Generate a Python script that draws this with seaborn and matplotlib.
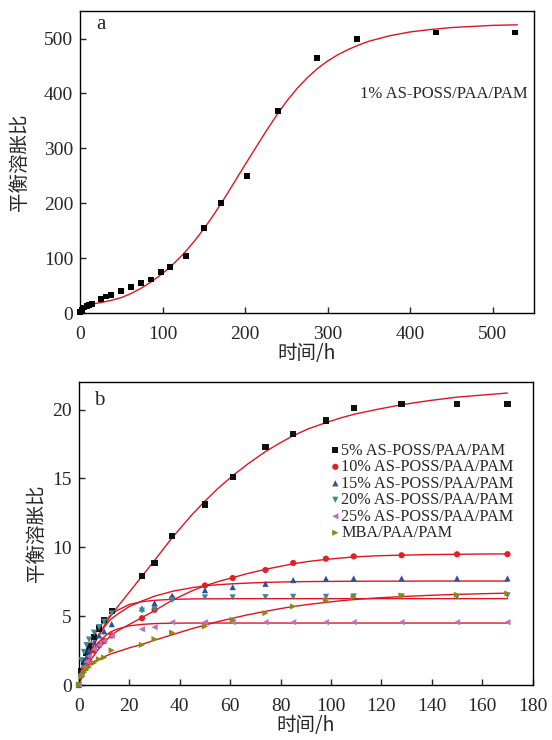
import matplotlib
matplotlib.use("Agg")
import matplotlib.pyplot as plt
import seaborn as sns
import pandas as pd

# ---------------- data: panel a ----------------
a_time = [0, 2, 5, 8, 11, 14, 25, 31, 37, 50, 62, 74, 85.5, 98, 109, 128, 150, 171, 202, 240, 287.5, 336, 431, 527]
a_ratio = [2, 6, 10, 12, 14, 16, 25, 30, 33, 40, 47, 55, 61, 75, 84, 104, 155, 200, 250, 368, 465, 499, 511, 511]
a_fit_time = [0, 12.5, 25, 37.5, 50, 62.5, 75, 87.5, 100, 112.5, 125, 137.5, 150, 162.5, 175, 187.5,
              200, 212.5, 225, 237.5, 250, 262.5, 275, 287.5, 300, 312.5, 325, 337.5, 350, 375,
              400, 425, 450, 500, 530]
a_fit_ratio = [12, 15.7, 19, 23, 28, 36, 46, 58, 72, 88.5, 107, 129, 153, 180, 209, 239.5,
               270, 300, 330, 358.5, 385, 408, 428, 445, 459, 470.5, 480, 488, 495, 505,
               512, 516.5, 520, 524, 525]
a_label = "1% AS-POSS/PAA/PAM"

# ---------------- data: panel b ----------------
b_time = [0, 1, 2, 3, 4, 6, 8, 10, 13, 25, 30, 37, 50, 61, 74, 85, 98, 109, 128, 150, 170]
b_names = ["5% AS-POSS/PAA/PAM", "10% AS-POSS/PAA/PAM", "15% AS-POSS/PAA/PAM",
           "20% AS-POSS/PAA/PAM", "25% AS-POSS/PAA/PAM", "MBA/PAA/PAM"]
b_s5 = [0, 1.0, 1.7, 2.3, 2.8, 3.5, 4.1, 4.7, 5.4, 7.94, 8.83, 10.8, 13.1, 15.1, 17.3, 18.25, 19.2, 20.1, 20.4, 20.4, 20.4]
b_s10 = [0, 0.7, 1.2, 1.6, 2.0, 2.5, 2.9, 3.2, 3.6, 4.85, 5.46, 6.3, 7.23, 7.77, 8.35, 8.86, 9.17, 9.34, 9.42, 9.49, 9.5]
b_s15 = [0, 0.9, 1.5, 2.0, 2.5, 3.1, 3.6, 3.9, 4.42, 5.56, 5.95, 6.48, 6.89, 7.11, 7.35, 7.62, 7.72, 7.74, 7.74, 7.74, 7.74]
b_s20 = [0, 1.8, 2.4, 2.9, 3.3, 3.8, 4.2, 4.6, 5.2, 5.4, 5.5, 6.17, 6.36, 6.36, 6.38, 6.4, 6.4, 6.43, 6.43, 6.4, 6.5]
b_s25 = [0, 0.8, 1.3, 1.7, 2.1, 2.6, 2.9, 3.2, 3.57, 4.05, 4.2, 4.56, 4.56, 4.56, 4.56, 4.56, 4.56, 4.56, 4.56, 4.56, 4.56]
b_mba = [0, 0.6, 0.9, 1.1, 1.3, 1.6, 1.87, 2.0, 2.52, 2.91, 3.33, 3.81, 4.25, 4.73, 5.22, 5.7, 6.14, 6.38, 6.5, 6.55, 6.65]

b_fit_time = [0, 1, 2, 3.5, 5, 7.5, 10, 12.5, 15, 20, 25, 30, 37, 45, 50, 55, 61, 67, 74, 80,
              85, 91, 98, 104, 109, 118, 128, 139, 150, 160, 170]
b_fit5 = [0, 0.6, 1.15, 1.9, 2.55, 3.5, 4.3, 5.0, 5.6, 6.75, 7.9, 9.05, 10.7, 12.4, 13.35, 14.25,
          15.2, 16.05, 16.95, 17.6, 18.1, 18.6, 19.05, 19.4, 19.65, 20.0, 20.35, 20.65, 20.9, 21.05, 21.2]
b_fit10 = [0, 0.5, 0.9, 1.4, 1.9, 2.55, 3.1, 3.55, 3.9, 4.4, 4.9, 5.4, 6.15, 6.85, 7.2, 7.5,
           7.8, 8.1, 8.4, 8.62, 8.8, 8.97, 9.12, 9.22, 9.3, 9.38, 9.43, 9.47, 9.49, 9.51, 9.52]
b_fit15 = [0, 0.7, 1.2, 1.95, 2.6, 3.5, 4.2, 4.75, 5.1, 5.7, 6.1, 6.45, 6.8, 7.07, 7.2, 7.28,
           7.35, 7.4, 7.45, 7.48, 7.5, 7.51, 7.52, 7.53, 7.53, 7.54, 7.54, 7.55, 7.55, 7.55, 7.55]
b_fit20 = [0, 0.9, 1.6, 2.5, 3.2, 4.1, 4.6, 5.05, 5.4, 5.85, 6.05, 6.15, 6.22, 6.25, 6.26, 6.26,
           6.27, 6.27, 6.27, 6.27, 6.27, 6.27, 6.27, 6.27, 6.27, 6.27, 6.27, 6.27, 6.27, 6.27, 6.27]
b_fit25 = [0, 0.65, 1.2, 1.85, 2.4, 3.05, 3.5, 3.85, 4.05, 4.3, 4.4, 4.46, 4.49, 4.5, 4.5, 4.5,
           4.5, 4.5, 4.5, 4.5, 4.5, 4.5, 4.5, 4.5, 4.5, 4.5, 4.5, 4.5, 4.5, 4.5, 4.5]
b_fitmba = [0, 0.7, 1.05, 1.35, 1.6, 1.85, 2.05, 2.25, 2.4, 2.7, 2.95, 3.25, 3.65, 4.1, 4.35, 4.6,
            4.85, 5.1, 5.35, 5.55, 5.7, 5.85, 6.0, 6.12, 6.2, 6.32, 6.42, 6.51, 6.58, 6.63, 6.67]

b_colors = ["#111111", "#e0202a", "#2a52a0", "#3b8a92", "#c070b8", "#8a8a10"]
b_markers = ["s", "o", "^", "v", "<", ">"]
fit_color = "#e0141e"

# ---------------- style ----------------
sns.set_theme(style="ticks")
plt.rcParams["font.family"] = ["Liberation Serif", "Noto Sans CJK SC", "DejaVu Sans"]
plt.rcParams["axes.linewidth"] = 1.0
plt.rcParams["xtick.direction"] = "in"
plt.rcParams["ytick.direction"] = "in"
plt.rcParams["xtick.major.size"] = 4
plt.rcParams["ytick.major.size"] = 4
plt.rcParams["axes.unicode_minus"] = False

cjk = ["Noto Sans CJK SC", "DejaVu Sans"]

fig = plt.figure(figsize=(5.52, 7.40), dpi=100)
ax_a = fig.add_axes([0.145, 0.577, 0.822, 0.408])
ax_b = fig.add_axes([0.143, 0.0743, 0.822, 0.4095])

# ---- panel a ----
df_a = pd.DataFrame({"t": a_time, "r": a_ratio})
df_af = pd.DataFrame({"t": a_fit_time, "r": a_fit_ratio})
sns.lineplot(data=df_af, x="t", y="r", ax=ax_a, color=fit_color, lw=1.0, estimator=None, sort=True)
sns.scatterplot(data=df_a, x="t", y="r", ax=ax_a, color="black", marker="s", s=18,
                edgecolor="none", linewidth=0, clip_on=False, zorder=3)
ax_a.set_xlim(0, 550)
ax_a.set_ylim(0, 550)
ax_a.set_xticks([0, 100, 200, 300, 400, 500])
ax_a.set_yticks([0, 100, 200, 300, 400, 500])
ax_a.text(339, 399, a_label, fontsize=12, va="center", ha="left")
ax_a.text(0.046, 0.954, "a", transform=ax_a.transAxes, fontsize=15, ha="center", va="center")
ax_a.set_xlabel("时间/h", fontsize=14, family=cjk, labelpad=0)
ax_a.set_ylabel("平衡溶胀比", fontsize=14, family=cjk, labelpad=10)

# ---- panel b ----
series = [b_s5, b_s10, b_s15, b_s20, b_s25, b_mba]
fits = [b_fit5, b_fit10, b_fit15, b_fit20, b_fit25, b_fitmba]
for fit in fits:
    dff = pd.DataFrame({"t": b_fit_time, "r": fit})
    sns.lineplot(data=dff, x="t", y="r", ax=ax_b, color=fit_color, lw=1.0, estimator=None,
                 sort=True, zorder=2, legend=False)
for name, vals, col, mk in zip(b_names, series, b_colors, b_markers):
    dfs = pd.DataFrame({"t": b_time, "r": vals})
    sns.scatterplot(data=dfs, x="t", y="r", ax=ax_b, color=col, marker=mk, s=20,
                    edgecolor="none", linewidth=0, label=name, clip_on=False, zorder=3)
ax_b.set_xlim(0, 180)
ax_b.set_ylim(0, 22)
ax_b.set_xticks(list(range(0, 181, 20)))
ax_b.set_yticks([0, 5, 10, 15, 20])
ax_b.text(0.045, 0.938, "b", transform=ax_b.transAxes, fontsize=15, ha="center", va="center")
ax_b.set_xlabel("时间/h", fontsize=14, family=cjk, labelpad=0)
ax_b.set_ylabel("平衡溶胀比", fontsize=14, family=cjk, labelpad=4)
leg = ax_b.legend(loc="upper left", bbox_to_anchor=(0.557, 0.80), frameon=False,
                  fontsize=11.7, handlelength=0.45, handletextpad=0.15, labelspacing=0.03,
                  borderaxespad=0, borderpad=0, markerscale=1.0)

for ax in (ax_a, ax_b):
    ax.tick_params(axis="x", labelsize=14, width=1.0, pad=9)
    ax.tick_params(axis="y", labelsize=14, width=1.0, pad=5)
    for sp in ax.spines.values():
        sp.set_visible(True)
        sp.set_color("black")

fig.savefig("out.png", dpi=100)
